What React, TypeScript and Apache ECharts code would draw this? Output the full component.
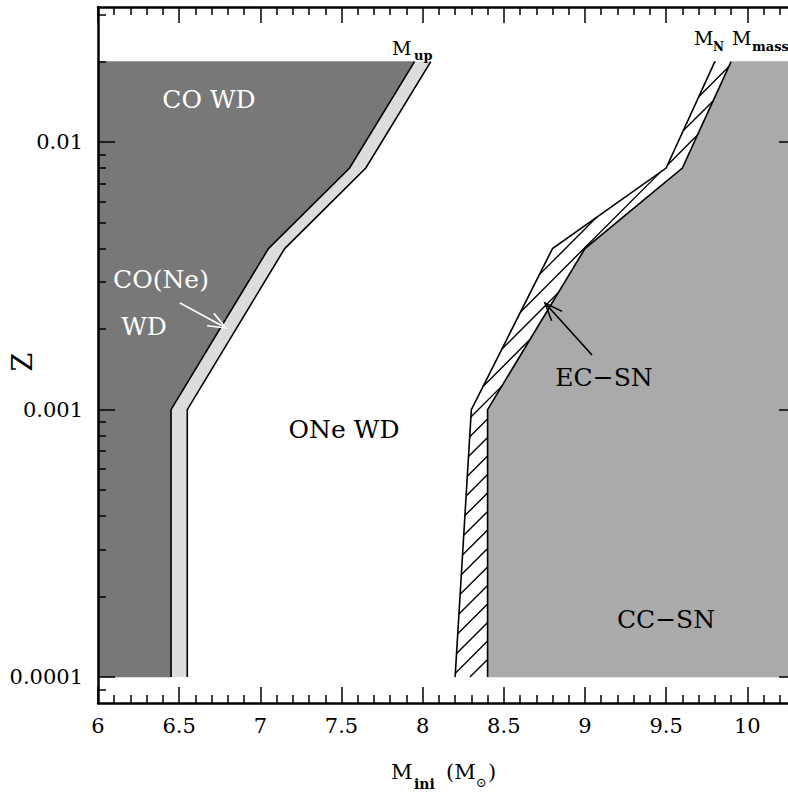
import React, { useEffect, useRef } from 'react';
import * as echarts from 'echarts';

const FONT = "'DejaVu Serif', 'DejaVu Sans', serif";

// Metallicity levels where the boundaries are sampled
const zLevels = [0.0001, 0.001, 0.004, 0.008, 0.02];
// M_up (lower and upper edge of the CO(Ne) WD band)
const mUpLow = [6.45, 6.45, 7.05, 7.55, 7.95];
const mUpHigh = [6.55, 6.55, 7.15, 7.65, 8.05];
// M_N and M_mass (edges of the EC-SN band)
const mN = [8.2, 8.3, 8.8, 9.5, 9.8];
const mMass = [8.4, 8.4, 9.0, 9.6, 9.9];

const xRange = [6, 10.3];
const zRange = [0.00008, 0.032];

const xMajorTicks = [6, 6.5, 7, 7.5, 8, 8.5, 9, 9.5, 10];
const xMinorTicks = [
  6.1, 6.2, 6.3, 6.4, 6.6, 6.7, 6.8, 6.9, 7.1, 7.2, 7.3, 7.4, 7.6, 7.7, 7.8, 7.9,
  8.1, 8.2, 8.3, 8.4, 8.6, 8.7, 8.8, 8.9, 9.1, 9.2, 9.3, 9.4, 9.6, 9.7, 9.8, 9.9,
  10.1, 10.2,
];
const zMajorTicks = [0.0001, 0.001, 0.01];
const zTickLabels = ['0.0001', '0.001', '0.01'];
const zMinorTicks = [
  0.00009, 0.0002, 0.0003, 0.0004, 0.0005, 0.0006, 0.0007, 0.0008, 0.0009,
  0.002, 0.003, 0.004, 0.005, 0.006, 0.007, 0.008, 0.009, 0.02, 0.03,
];

const COLORS = {
  coWD: '#787878',
  coNeWD: '#dcdcdc',
  ccSN: '#aaaaaa',
  line: '#000000',
};

function hatchSegments(poly: number[][], step: number) {
  const cs = poly.map((p) => p[0] + p[1]);
  const cmin = Math.min(...cs);
  const cmax = Math.max(...cs);
  const segs: number[][][] = [];
  for (let c = Math.ceil(cmin / step) * step; c <= cmax; c += step) {
    const hits: number[][] = [];
    for (let i = 0; i < poly.length; i++) {
      const a = poly[i];
      const b = poly[(i + 1) % poly.length];
      const fa = a[0] + a[1] - c;
      const fb = b[0] + b[1] - c;
      if (fa < 0 !== fb < 0) {
        const t = fa / (fa - fb);
        hits.push([a[0] + t * (b[0] - a[0]), a[1] + t * (b[1] - a[1])]);
      }
    }
    hits.sort((p, q) => p[0] - q[0]);
    for (let k = 0; k + 1 < hits.length; k += 2) segs.push([hits[k], hits[k + 1]]);
  }
  return segs;
}

function arrow(tail: number[], tip: number[], color: string) {
  const dx = tip[0] - tail[0];
  const dy = tip[1] - tail[1];
  const d = Math.hypot(dx, dy);
  const ux = dx / d;
  const uy = dy / d;
  const len = 19;
  const rot = (a: number) => [
    tip[0] - len * (ux * Math.cos(a) - uy * Math.sin(a)),
    tip[1] - len * (ux * Math.sin(a) + uy * Math.cos(a)),
  ];
  return [
    { type: 'line', z: 30, shape: { x1: tail[0], y1: tail[1], x2: tip[0], y2: tip[1] }, style: { stroke: color, lineWidth: 1.6 } },
    { type: 'polyline', z: 30, shape: { points: [rot(0.38), tip, rot(-0.38)] }, style: { stroke: color, lineWidth: 1.6, fill: null } },
  ];
}

function txt(text: string, x: number, y: number, size: number, fill = '#000', extra: any = {}) {
  return {
    type: 'text',
    z: 30,
    x,
    y,
    style: {
      text,
      fill,
      font: `${extra.bold ? 'bold ' : ''}${size}px ${FONT}`,
      align: extra.align || 'center',
      verticalAlign: 'middle',
    },
  };
}

function makeX(position: string, ticks: number[], len: number, showLabel: boolean, showLine: boolean) {
  return {
    type: 'value',
    position,
    min: xRange[0],
    max: xRange[1],
    z: 10,
    axisLine: { show: showLine, onZero: false, lineStyle: { color: '#000', width: 2.5 } },
    axisTick: { show: true, inside: true, length: len, customValues: ticks, lineStyle: { color: '#000', width: 1.5 } },
    axisLabel: showLabel
      ? { show: true, customValues: xMajorTicks, margin: 12, fontSize: 21, fontFamily: FONT, color: '#000' }
      : { show: false },
    splitLine: { show: false },
    axisPointer: { show: false },
  };
}

function makeY(position: string, ticks: number[], len: number, showLabel: boolean, showLine: boolean) {
  return {
    type: 'log',
    logBase: 10,
    position,
    min: zRange[0],
    max: zRange[1],
    z: 10,
    axisLine: { show: showLine, onZero: false, lineStyle: { color: '#000', width: 2.5 } },
    axisTick: { show: true, inside: true, length: len, customValues: ticks, lineStyle: { color: '#000', width: 1.5 } },
    axisLabel: showLabel
      ? {
          show: true,
          customValues: zMajorTicks,
          margin: 15,
          fontSize: 21,
          fontFamily: FONT,
          color: '#000',
          formatter: (v: number) => {
            let best = 0;
            zMajorTicks.forEach((t, i) => {
              if (Math.abs(Math.log10(t) - Math.log10(v)) < Math.abs(Math.log10(zMajorTicks[best]) - Math.log10(v))) best = i;
            });
            return zTickLabels[best];
          },
        }
      : { show: false },
    splitLine: { show: false },
    minorSplitLine: { show: false },
  };
}

export default function App() {
  const ref = useRef<HTMLDivElement>(null);

  useEffect(() => {
    if (!ref.current) return;
    const chart = echarts.init(ref.current, null, { renderer: 'svg' });

    const renderItem = (_params: any, api: any) => {
      const c = (m: number, z: number) => api.coord([m, z]);
      const edge = (ms: number[]) => ms.map((m, i) => c(m, zLevels[i]));
      const zBot = zLevels[0];
      const zTop = zLevels[zLevels.length - 1];

      const low = edge(mUpLow);
      const high = edge(mUpHigh);
      const nEdge = edge(mN);
      const massEdge = edge(mMass);

      const coPoly = [c(xRange[0], zBot), ...low, c(xRange[0], zTop)];
      const bandPoly = [...low, ...high.slice().reverse()];
      const ecPoly = [...nEdge, ...massEdge.slice().reverse()];
      const ccPoly = [...massEdge, c(xRange[1], zTop), c(xRange[1], zBot)];

      const children: any[] = [
        { type: 'polygon', shape: { points: coPoly }, style: { fill: COLORS.coWD, stroke: COLORS.coWD, lineWidth: 0.5 } },
        { type: 'polygon', shape: { points: bandPoly }, style: { fill: COLORS.coNeWD } },
        { type: 'polygon', shape: { points: ccPoly }, style: { fill: COLORS.ccSN, stroke: COLORS.ccSN, lineWidth: 0.5 } },
        { type: 'polygon', shape: { points: ecPoly }, style: { fill: '#fff' } },
      ];
      hatchSegments(ecPoly, 18.5).forEach((s) => {
        children.push({
          type: 'line',
          shape: { x1: s[0][0], y1: s[0][1], x2: s[1][0], y2: s[1][1] },
          style: { stroke: COLORS.line, lineWidth: 1.4 },
        });
      });
      [low, high, nEdge, massEdge].forEach((pts) => {
        children.push({ type: 'polyline', shape: { points: pts }, style: { stroke: COLORS.line, lineWidth: 1.6, fill: null } });
      });
      return { type: 'group', children };
    };

    const graphic: any[] = [
      txt('CO WD', 209, 99, 25, '#fff'),
      txt('CO(Ne)', 161, 279, 25, '#fff'),
      txt('WD', 144, 326, 25, '#fff'),
      txt('ONe WD', 344, 429, 25),
      txt('EC\u2212SN', 604, 377, 25),
      txt('CC\u2212SN', 666, 619, 25),
      ...arrow([180, 303], [226, 328], '#fff'),
      ...arrow([592, 355], [545, 303], '#000'),
      // M_up
      txt('M', 392, 48, 19, '#000', { align: 'left' }),
      txt('up', 414, 55, 13, '#000', { align: 'left', bold: true }),
      // M_N, M_mass
      txt('M', 694, 38, 19, '#000', { align: 'left' }),
      txt('N', 713, 47, 12, '#000', { align: 'left', bold: true }),
      txt('M', 732, 38, 19, '#000', { align: 'left' }),
      txt('mass', 752, 46, 13, '#000', { align: 'left', bold: true }),
      // y title
      { ...txt('Z', 22, 362, 27), rotation: Math.PI / 2 },
      // x title
      txt('M', 391, 772, 21, '#000', { align: 'left' }),
      txt('ini', 414, 784, 14, '#000', { align: 'left', bold: true }),
      txt('(M', 446, 772, 21, '#000', { align: 'left' }),
      txt('\u2299', 476, 782, 13, '#000', { align: 'left' }),
      txt(')', 488, 772, 21, '#000', { align: 'left' }),
    ];

    chart.setOption({
      animation: false,
      textStyle: { fontFamily: FONT },
      grid: { left: 98, top: 7, width: 698, height: 696, containLabel: false, outerBoundsMode: 'none' },
      xAxis: [
        makeX('bottom', xMajorTicks, 16, true, true),
        makeX('bottom', xMinorTicks, 8, false, false),
        makeX('top', xMajorTicks, 16, false, true),
        makeX('top', xMinorTicks, 8, false, false),
      ],
      yAxis: [
        makeY('left', zMajorTicks, 17, true, true),
        makeY('left', zMinorTicks, 8, false, false),
        makeY('right', zMajorTicks, 17, false, true),
        makeY('right', zMinorTicks, 8, false, false),
      ],
      series: [
        {
          type: 'custom',
          xAxisIndex: 0,
          yAxisIndex: 0,
          silent: true,
          z: 2,
          data: [[xRange[0], zLevels[0]]],
          renderItem,
        },
      ],
      graphic,
    });

    return () => chart.dispose();
  }, []);

  return (
    <div
      ref={ref}
      style={{ position: 'fixed', left: 0, top: 0, width: 788, height: 792, background: '#fff' }}
    />
  );
}
